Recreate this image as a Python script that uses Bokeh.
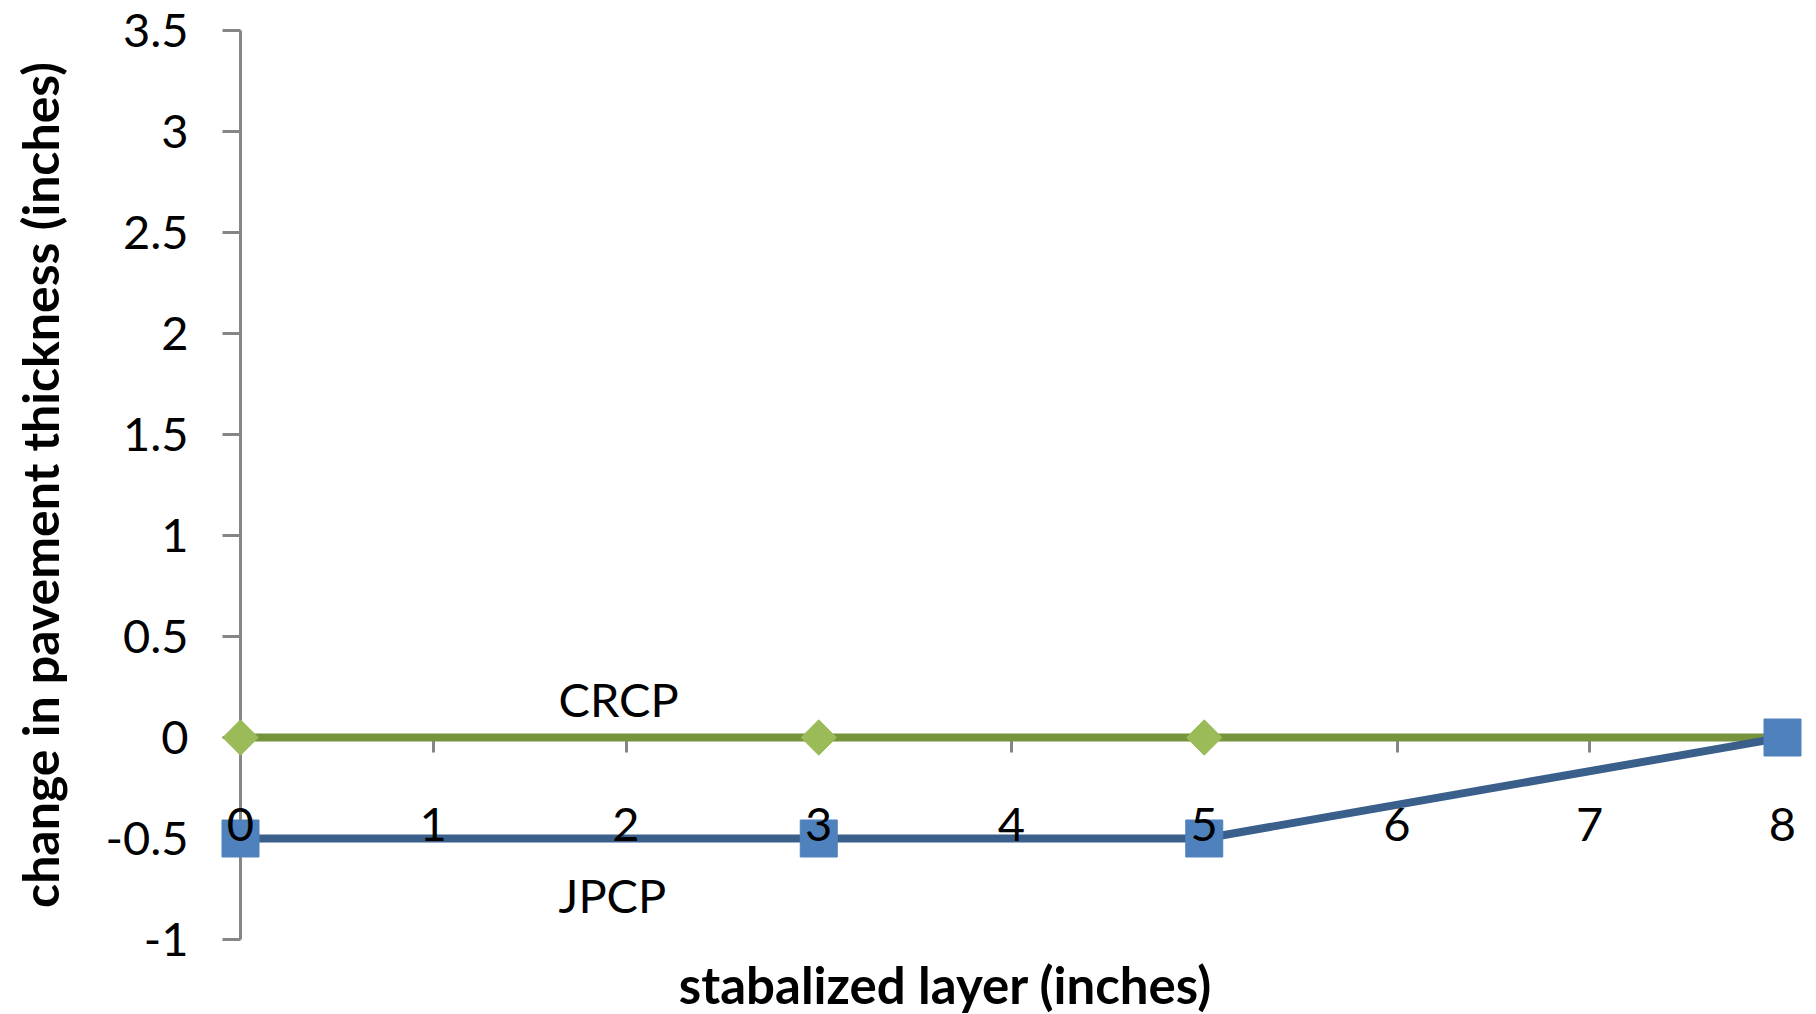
import numpy as np
from bokeh.plotting import figure
from bokeh.models import LinearAxis, FixedTicker, Range1d, Label
from bokeh.embed import file_html
from bokeh.resources import INLINE

# ---- data ----
layer_in = [0, 3, 5, 8]
crcp = [0, 0, 0, 0]
jpcp = [-0.5, -0.5, -0.5, 0]
x_ticks = [0, 1, 2, 3, 4, 5, 6, 7, 8]
y_ticks = [-1, -0.5, 0, 0.5, 1, 1.5, 2, 2.5, 3, 3.5]
y_tick_labels = ["-1", "-0.5", "0", "0.5", "1", "1.5", "2", "2.5", "3", "3.5"]

# ---- layout ----
W, H = 1816, 1014
x0_px, x8_px = 240, 1782
ytop_px, ybot_px = 30, 939
sx = (x8_px - x0_px) / 8.0
sy = (ybot_px - ytop_px) / 4.5

FONT = "Lato"
AXIS_GRAY = "#868686"

p = figure(
    width=W, height=H,
    x_range=Range1d(-x0_px / sx, (W - x0_px) / sx),
    y_range=Range1d(-1 - (H - ybot_px) / sy, 3.5 + ytop_px / sy),
    x_axis_location=None, y_axis_location=None,
    output_backend="svg", toolbar_location=None,
    min_border_left=0, min_border_right=0, min_border_top=0, min_border_bottom=0,
)
p.outline_line_color = None
p.xgrid.visible = False
p.ygrid.visible = False
p.background_fill_color = "white"
p.border_fill_color = "white"

# y axis (under glyphs)
yaxis = LinearAxis(
    fixed_location=0, ticker=FixedTicker(ticks=y_ticks),
    major_label_overrides=dict(zip(y_ticks, y_tick_labels)),
    bounds=(-1, 3.5), level="underlay",
    axis_label="change in pavement thickness (inches)",
)
yaxis.axis_line_color = AXIS_GRAY
yaxis.axis_line_width = 3
yaxis.major_tick_line_color = AXIS_GRAY
yaxis.major_tick_line_width = 3
yaxis.major_tick_out = 18
yaxis.major_tick_in = 0
yaxis.minor_tick_line_color = None
yaxis.major_label_text_font = FONT
yaxis.major_label_text_font_size = "47px"
yaxis.major_label_text_color = "black"
yaxis.major_label_standoff = 34
yaxis.axis_label_text_font = FONT
yaxis.axis_label_text_font_style = "bold"
yaxis.axis_label_text_font_size = "50px"
yaxis.axis_label_text_color = "black"
yaxis.axis_label_standoff = 32
p.add_layout(yaxis, "left")

# x axis line + ticks (under glyphs)
xaxis_line = LinearAxis(
    fixed_location=0, ticker=FixedTicker(ticks=x_ticks),
    bounds=(0, 8), level="underlay",
)
xaxis_line.axis_line_color = AXIS_GRAY
xaxis_line.axis_line_width = 3
xaxis_line.major_tick_line_color = AXIS_GRAY
xaxis_line.major_tick_line_width = 3
xaxis_line.major_tick_out = 15
xaxis_line.major_tick_in = 0
xaxis_line.minor_tick_line_color = None
xaxis_line.major_label_text_color = None
p.add_layout(xaxis_line, "below")

# x axis labels (above glyphs)
xaxis_lab = LinearAxis(
    fixed_location=0, ticker=FixedTicker(ticks=x_ticks), bounds=(0, 8),
)
xaxis_lab.axis_line_color = None
xaxis_lab.major_tick_line_color = None
xaxis_lab.minor_tick_line_color = None
xaxis_lab.major_tick_out = 0
xaxis_lab.major_tick_in = 0
xaxis_lab.major_label_text_font = FONT
xaxis_lab.major_label_text_font_size = "47px"
xaxis_lab.major_label_text_color = "black"
xaxis_lab.major_label_standoff = 70
p.add_layout(xaxis_lab, "below")

# series
p.line(layer_in, crcp, line_color="#77933C", line_width=8)
p.scatter(layer_in, crcp, marker="square", angle=np.pi / 4, size=25,
          fill_color="#9BBB59", line_color="#9BBB59")
p.line(layer_in, jpcp, line_color="#3A5F8B", line_width=8)
p.scatter(layer_in, jpcp, marker="square", size=37,
          fill_color="#4F81BD", line_color="#4F81BD")

# series labels
p.add_layout(Label(x=1.65, y=0.19, text="CRCP", text_align="left", text_baseline="middle",
                   text_font=FONT, text_font_size="47px", text_color="black"))
p.add_layout(Label(x=1.65, y=-0.78, text="JPCP", text_align="left", text_baseline="middle",
                   text_font=FONT, text_font_size="47px", text_color="black"))

# x axis title
p.add_layout(Label(x=(945 - x0_px) / sx, y=-1 - (984 - ybot_px) / sy,
                   text="stabalized layer (inches)", text_align="center", text_baseline="middle",
                   text_font=FONT, text_font_style="bold", text_font_size="51px", text_color="black"))

open("out.html", "w").write(file_html(p, INLINE))
